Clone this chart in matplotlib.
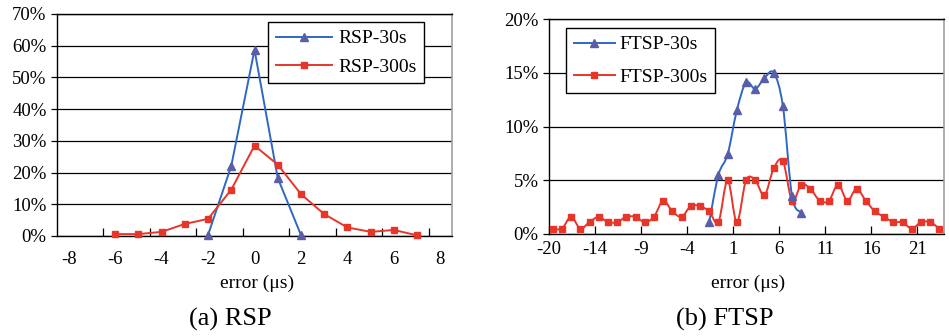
import numpy as np
import matplotlib
matplotlib.use("Agg")
import matplotlib.pyplot as plt
from matplotlib.path import Path
from matplotlib.patches import PathPatch
from matplotlib.lines import Line2D
from matplotlib.ticker import FixedLocator, FuncFormatter

plt.rcParams['font.family'] = ['Liberation Serif', 'DejaVu Serif']
plt.rcParams['axes.unicode_minus'] = False

# (a) RSP
rsp30_x = [-2, -1, 0, 1, 2]
rsp30_y = [0.3, 22.1, 58.7, 18.3, 0.3]
rsp300_x = [-6, -5, -4, -3, -2, -1, 0, 1, 2, 3, 4, 5, 6, 7]
rsp300_y = [0.6, 0.6, 1.3, 3.8, 5.4, 14.6, 28.5, 22.5, 13.2, 6.9, 2.7, 1.3, 1.9, 0.2]
rsp_xlabels = [-8, -6, -4, -2, 0, 2, 4, 6, 8]
rsp_yticks = [0, 10, 20, 30, 40, 50, 60, 70]

# (b) FTSP
ftsp300_x = list(range(-19, 24))
ftsp300_y = [0.5, 0.5, 1.6, 0.5, 1.1, 1.6, 1.1, 1.1, 1.6, 1.6,
             1.1, 1.6, 3.1, 2.1, 1.6, 2.6, 2.6, 2.1, 1.1, 5.0,
             1.1, 5.0, 5.0, 3.6, 6.1, 6.8, 3.1, 4.6, 4.2, 3.1,
             3.1, 4.6, 3.1, 4.2, 3.1, 2.1, 1.6, 1.1, 1.1, 0.5,
             1.1, 1.1, 0.5]
ftsp30_x = [-2, -1, 0, 1, 2, 3, 4, 5, 6, 7, 8]
ftsp30_y = [1.1, 5.5, 7.4, 11.5, 14.1, 13.5, 14.5, 15.0, 11.9, 3.5, 2.0]
ftsp_xlabels = ['-20', '-14', '-9', '-4', '1', '6', '11', '16', '21']
ftsp_yticks = [0, 5, 10, 15, 20]

BLUE = '#2f68c4'
TRI = '#5a5ea8'
RED = '#e8352a'


def smooth_path(xs, ys):
    # excel-like smoothed line (catmull-rom as bezier)
    x = np.asarray(xs, float)
    y = np.asarray(ys, float)
    n = len(x)
    verts = [(x[0], y[0])]
    codes = [Path.MOVETO]
    for i in range(n - 1):
        a = i - 1 if i > 0 else i
        d = i + 2 if i + 2 < n else i + 1
        c1 = (x[i] + (x[i + 1] - x[a]) / 6, y[i] + (y[i + 1] - y[a]) / 6)
        c2 = (x[i + 1] - (x[d] - x[i]) / 6, y[i + 1] - (y[d] - y[i]) / 6)
        verts += [c1, c2, (x[i + 1], y[i + 1])]
        codes += [Path.CURVE4] * 3
    return Path(verts, codes)


def style_axes(ax, yticks):
    ax.set_ylim(yticks[0], yticks[-1])
    ax.set_yticks(yticks)
    ax.yaxis.set_major_formatter(FuncFormatter(lambda v, p: '%d%%' % v))
    ax.yaxis.grid(True, color='black', lw=0.9)
    ax.set_axisbelow(True)
    for s in ['left', 'bottom', 'top']:
        ax.spines[s].set_color('black')
        ax.spines[s].set_linewidth(1.0)
    ax.spines['right'].set_color('#a0a0a0')
    ax.spines['right'].set_linewidth(1.2)
    ax.tick_params(axis='y', direction='out', length=4, width=0.9, pad=3.5, labelsize=13.5)


fig = plt.figure(figsize=(9.49, 3.36), dpi=100)

# ---- left: RSP ----
ax1 = fig.add_axes([57 / 949, 1 - 236 / 336, 395 / 949, 222 / 336])
style_axes(ax1, rsp_yticks)
ax1.set_xlim(-8.5, 8.5)
ax1.set_xticks(rsp_xlabels)
ax1.xaxis.set_minor_locator(FixedLocator(np.arange(-6.5, 8, 2)))
ax1.tick_params(axis='x', which='major', length=0, pad=11, labelsize=13.5)
ax1.tick_params(axis='x', which='minor', direction='in', length=6, width=0.9)
ax1.plot(rsp30_x, rsp30_y, color=BLUE, lw=1.4, marker='^', ms=6,
         mfc=TRI, mec=TRI, label='RSP-30s', clip_on=False, zorder=3)
ax1.plot(rsp300_x, rsp300_y, color=RED, lw=1.4, marker='s', ms=4.5,
         mfc=RED, mec=RED, label='RSP-300s', clip_on=False, zorder=3)
ax1.legend(loc='upper left', bbox_to_anchor=(211 / 395, 214 / 222), borderaxespad=0,
           fontsize=14, fancybox=False, edgecolor='black', framealpha=1,
           borderpad=0.4, labelspacing=0.55, handlelength=2.9, handletextpad=0.3)
ax1.get_legend().get_frame().set_linewidth(1.0)

# ---- right: FTSP ----
ax2 = fig.add_axes([549 / 949, 1 - 234 / 336, 395 / 949, 215 / 336])
style_axes(ax2, ftsp_yticks)
ax2.set_xlim(-19.4, 23.5)
ax2.set_xticks([-19.4 + 5 * i for i in range(len(ftsp_xlabels))])
ax2.set_xticklabels(ftsp_xlabels)
ax2.tick_params(axis='x', direction='in', length=6, width=0.9, pad=5, labelsize=13.5)

ax2.add_patch(PathPatch(smooth_path(ftsp300_x, ftsp300_y), fc='none', ec=RED, lw=1.4, zorder=3))
ax2.add_patch(PathPatch(smooth_path(ftsp30_x, ftsp30_y), fc='none', ec=BLUE, lw=1.4, zorder=3))
ax2.plot(ftsp300_x, ftsp300_y, ls='none', marker='s', ms=4.5, mfc=RED, mec=RED, zorder=4, clip_on=False)
ax2.plot(ftsp30_x, ftsp30_y, ls='none', marker='^', ms=6, mfc=TRI, mec=TRI, zorder=4)
handles = [Line2D([], [], color=BLUE, lw=1.4, marker='^', ms=6, mfc=TRI, mec=TRI),
           Line2D([], [], color=RED, lw=1.4, marker='s', ms=4.5, mfc=RED, mec=RED)]
ax2.legend(handles, ['FTSP-30s', 'FTSP-300s'], loc='upper left',
           bbox_to_anchor=(17 / 395, 206 / 215), borderaxespad=0,
           fontsize=14, fancybox=False, edgecolor='black', framealpha=1,
           borderpad=0.4, labelspacing=0.75, handlelength=2.1, handletextpad=0.25)
ax2.get_legend().get_frame().set_linewidth(1.0)

# axis titles and captions
fig.text(257 / 949, 1 - 283 / 336, 'error (\u03bcs)', ha='center', va='center', fontsize=14)
fig.text(748 / 949, 1 - 283 / 336, 'error (\u03bcs)', ha='center', va='center', fontsize=14)
fig.text(230 / 949, 1 - 319 / 336, '(a) RSP', ha='center', va='center', fontsize=19)
fig.text(725 / 949, 1 - 319 / 336, '(b) FTSP', ha='center', va='center', fontsize=19)

fig.savefig('out.png', dpi=100, facecolor='white')
